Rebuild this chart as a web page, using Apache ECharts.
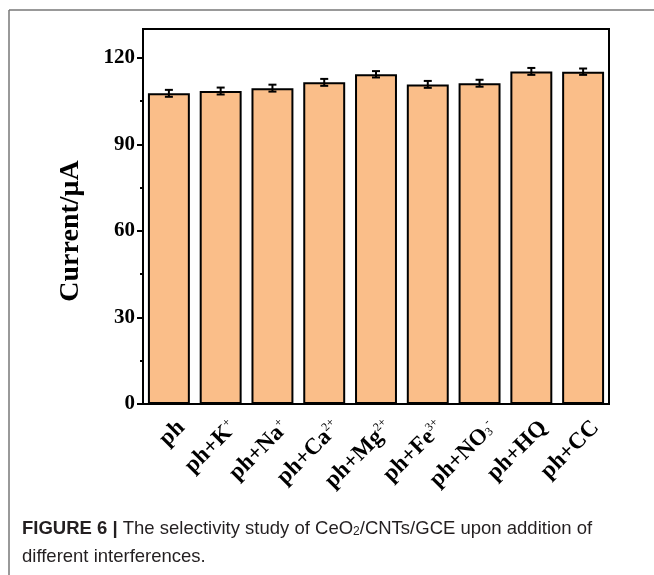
<!DOCTYPE html>
<html>
<head>
<meta charset="utf-8">
<script src="https://cdn.jsdelivr.net/npm/echarts@6/dist/echarts.min.js"></script>
<style>
  html, body { margin: 0; padding: 0; background: #fff; }
  #chart { width: 654px; height: 575px; }
</style>
</head>
<body>
<div id="chart"></div>
<script>
// Electrode response (µA) for phenol alone and with each interfering species
const categories = ['ph', 'ph+K+', 'ph+Na+', 'ph+Ca2+', 'ph+Mg2+', 'ph+Fe3+', 'ph+NO3-', 'ph+HQ', 'ph+CC'];
const categoryLabels = [
  'ph',
  'ph+K{sup|+}',
  'ph+Na{sup|+}',
  'ph+Ca{sup|2+}',
  'ph+Mg{sup|2+}',
  'ph+Fe{sup|3+}',
  'ph+NO{sub|3}{sup|-}',
  'ph+HQ',
  'ph+CC'
];
const currentValues = [107.7, 108.5, 109.5, 111.5, 114.3, 110.8, 111.2, 115.3, 115.2];
const currentErrors = [1.2, 1.2, 1.2, 1.2, 1.1, 1.2, 1.2, 1.2, 1.1];
const yMajorTicks = [0, 30, 60, 90, 120];
const yMinorTicks = [15, 45, 75, 105];

const serif = '"Liberation Serif", "Times New Roman", serif';
const sans = '"Liberation Sans", Arial, sans-serif';
const chart = echarts.init(document.getElementById('chart'), null, { renderer: 'canvas' });

const errorData = categories.map((c, i) => [i, currentValues[i], currentErrors[i]]);

const option = {
  backgroundColor: '#ffffff',
  animation: false,
  grid: {
    left: 143, top: 29, right: 45, bottom: 171,
    show: true, borderColor: '#000', borderWidth: 2, backgroundColor: 'transparent'
  },
  xAxis: {
    type: 'category',
    data: categoryLabels,
    axisLine: { lineStyle: { color: '#000', width: 2 } },
    axisTick: { alignWithLabel: true, length: 6, lineStyle: { color: '#000', width: 2 } },
    axisLabel: {
      rotate: 45, margin: 8, interval: 0, verticalAlign: 'top', padding: [6, 0, 0, 0],
      fontFamily: serif, fontWeight: 'bold', fontSize: 23, color: '#000',
      rich: {
        sup: { fontFamily: serif, fontWeight: 'normal', fontSize: 12, color: '#000', verticalAlign: 'bottom', padding: [0, 0, 12, 0] },
        sub: { fontFamily: serif, fontWeight: 'normal', fontSize: 12, color: '#000', verticalAlign: 'top', padding: [9, 0, 0, 0] }
      }
    }
  },
  yAxis: [
    {
      type: 'value', min: 0, max: 130,
      axisLine: { show: true, lineStyle: { color: '#000', width: 2 } },
      axisTick: { show: true, length: 6, customValues: yMajorTicks, lineStyle: { color: '#000', width: 2 } },
      axisLabel: { customValues: yMajorTicks, margin: 8, fontFamily: serif, fontWeight: 'bold', fontSize: 21, color: '#000' },
      splitLine: { show: false }
    },
    {
      type: 'value', min: 0, max: 130, position: 'left',
      axisLine: { show: false },
      axisTick: { show: true, length: 3, customValues: yMinorTicks, lineStyle: { color: '#000', width: 2 } },
      axisLabel: { show: false },
      splitLine: { show: false }
    }
  ],
  series: [
    {
      type: 'bar',
      data: currentValues,
      barCategoryGap: '19%',
      itemStyle: { color: '#FABE89', borderColor: '#000', borderWidth: 2 }
    },
    {
      type: 'custom',
      data: errorData,
      z: 10,
      renderItem: function (params, api) {
        const idx = api.value(0), v = api.value(1), e = api.value(2);
        const top = api.coord([idx, v + e]);
        const bot = api.coord([idx, v - e]);
        const hw = 4;
        const st = { stroke: '#000', lineWidth: 2 };
        return {
          type: 'group',
          children: [
            { type: 'line', shape: { x1: top[0], y1: top[1], x2: bot[0], y2: bot[1] }, style: st },
            { type: 'line', shape: { x1: top[0] - hw, y1: top[1], x2: top[0] + hw, y2: top[1] }, style: st },
            { type: 'line', shape: { x1: bot[0] - hw, y1: bot[1], x2: bot[0] + hw, y2: bot[1] }, style: st }
          ]
        };
      }
    }
  ],
  graphic: [
    // figure frame
    { type: 'line', shape: { x1: 9, y1: 10, x2: 654, y2: 10 }, style: { stroke: '#777', lineWidth: 1.5 } },
    { type: 'line', shape: { x1: 9, y1: 10, x2: 9, y2: 575 }, style: { stroke: '#777', lineWidth: 1.5 } },
    // y-axis title
    {
      type: 'text', x: 71, y: 231, rotation: Math.PI / 2,
      style: {
        text: 'Current/μA', fontFamily: serif, fontWeight: 'bold', fontSize: 28, fill: '#000',
        align: 'center', verticalAlign: 'middle'
      }
    },
    // caption
    {
      type: 'text', left: 22, top: 515,
      style: {
        text: '{b|FIGURE 6 |} The selectivity study of CeO{s|2}/CNTs/GCE upon addition of\ndifferent interferences.',
        fontFamily: sans, fontSize: 18.5, fill: '#231f20', lineHeight: 28,
        rich: {
          b: { fontFamily: sans, fontWeight: 'bold', fontSize: 18.5, fill: '#231f20', lineHeight: 28 },
          s: { fontFamily: sans, fontSize: 12, fill: '#231f20', verticalAlign: 'top', padding: [11, 0, 0, 0], lineHeight: 28 }
        }
      }
    }
  ]
};

chart.setOption(option);
</script>
</body>
</html>
